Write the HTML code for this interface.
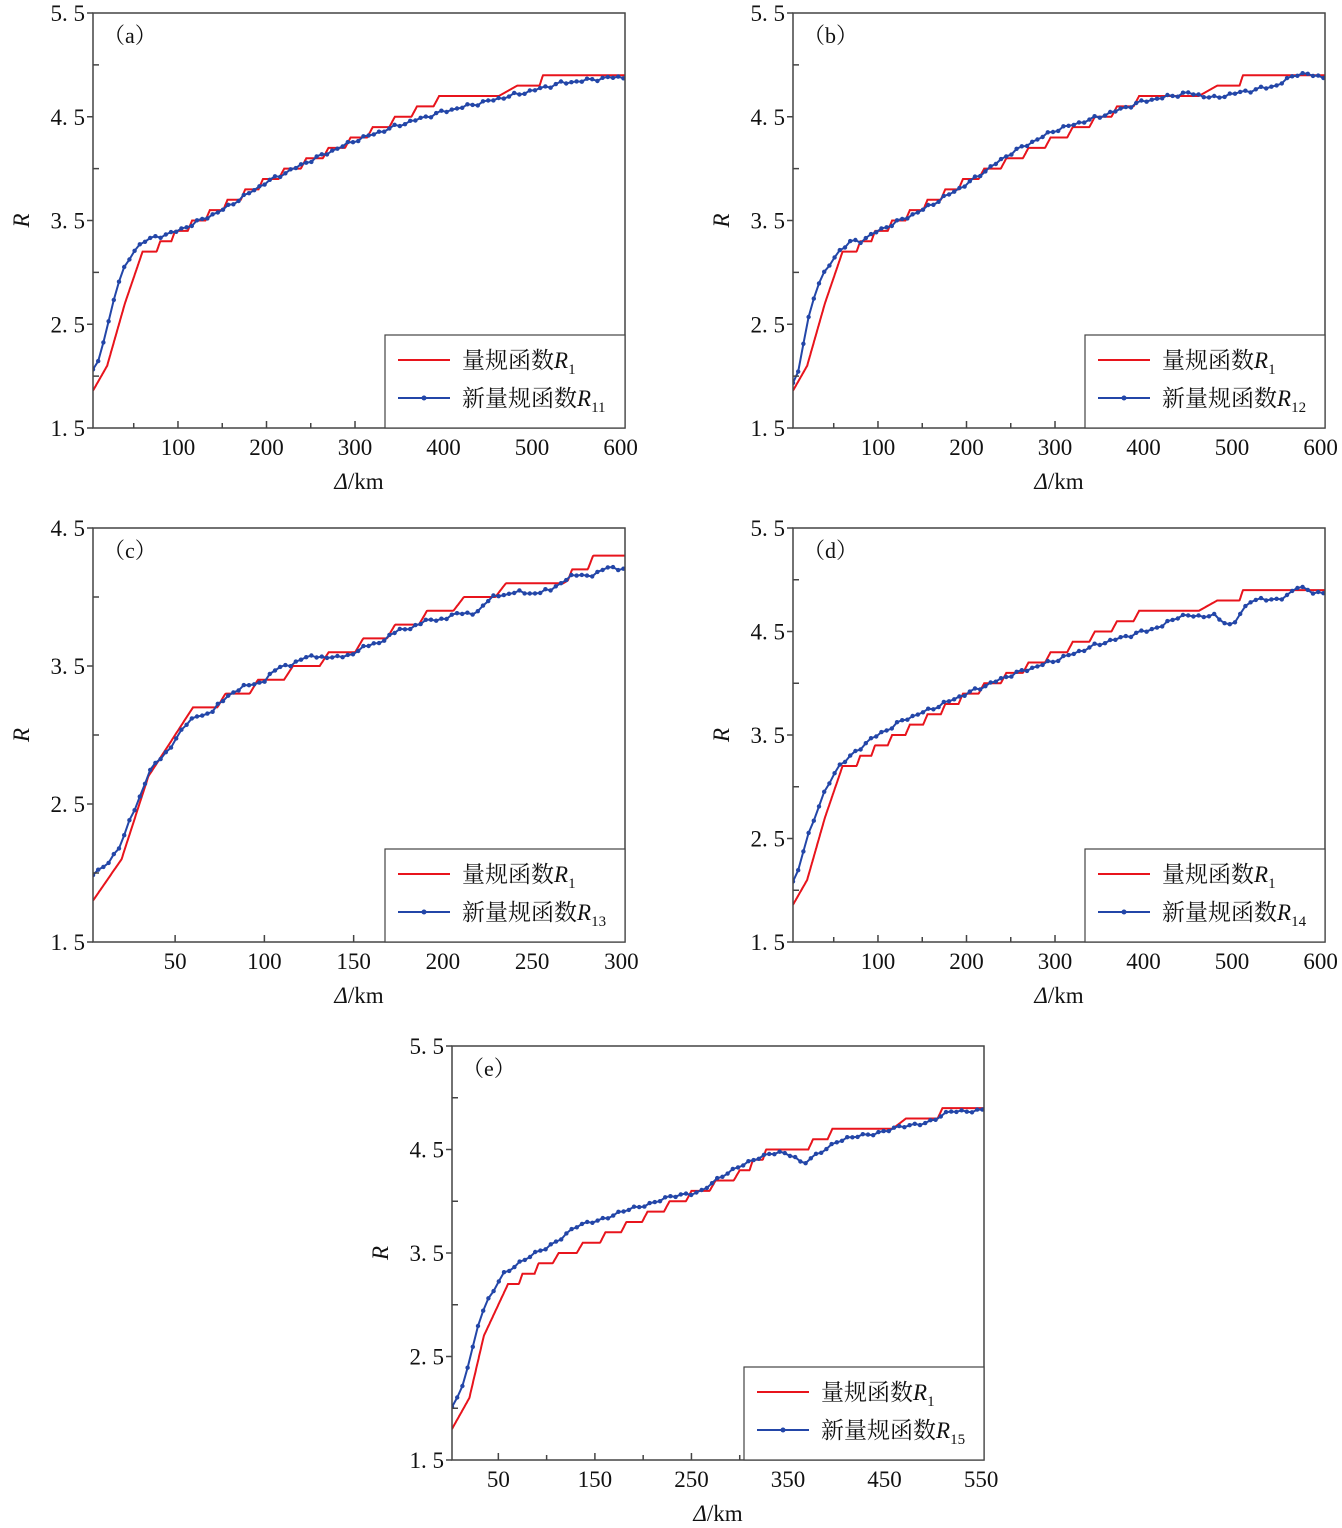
<!DOCTYPE html>
<html><head><meta charset="utf-8"><style>
html,body{margin:0;padding:0;background:#fff;}
svg text{font-family:"Liberation Serif","Noto Serif CJK SC",serif;fill:#111;}
</style></head><body>
<svg id="s" width="1342" height="1523" xmlns="http://www.w3.org/2000/svg"></svg>
<script>
const S=document.getElementById('s');let h='';
function interp(a,x){if(x<=a[0][0])return a[0][1];for(let i=1;i<a.length;i++){if(x<=a[i][0]){const t=(x-a[i-1][0])/(a[i][0]-a[i-1][0]);return a[i-1][1]+t*(a[i][1]-a[i-1][1]);}}return a[a.length-1][1];}
function quant(v){const k=Math.floor(v*10+1e-9),f=v*10-k;return (k+(f>0.75?(f-0.75)/0.25:0))/10;}
function panel(o){
 const {L,T,W,H,x0,x1,y0,y1,lab,xt,xmin,yt,ymin,red,blue,sub,qx}=o;
 const X=x=>L+(x-x0)/(x1-x0)*W, Y=y=>T+H-(y-y0)/(y1-y0)*H;
 h+=`<clipPath id="c${lab}"><rect x="${L}" y="${T}" width="${W}" height="${H}"/></clipPath>`;
 let p='';for(let x=x0;x<=x1;x+=0.5){let v=interp(red,x);if(x>qx)v=Math.max(quant(v),interp(red,qx));p+=(p?'L':'M')+X(x).toFixed(1)+' '+Y(v).toFixed(1);}
 h+=`<path d="${p}" fill="none" stroke="#e8141c" stroke-width="2" clip-path="url(#c${lab})"/>`;
 let q='',dots='';const step=(x1-x0)/W*5.2;
 for(let x=x0;x<=x1+0.01;x+=step){let v=interp(blue,x)+0.012*Math.sin(x*0.37)+0.008*Math.sin(x*1.3);const px=X(x),py=Y(v);q+=(q?'L':'M')+px.toFixed(1)+' '+py.toFixed(1);dots+=`<circle cx="${px.toFixed(1)}" cy="${py.toFixed(1)}" r="2.2"/>`;}
 h+=`<g clip-path="url(#c${lab})"><path d="${q}" fill="none" stroke="#2346a8" stroke-width="2"/><g fill="#2346a8">${dots}</g></g>`;
 h+=`<rect x="${L}" y="${T}" width="${W}" height="${H}" fill="none" stroke="#444" stroke-width="1.5"/>`;
 for(const t of yt){const y=Y(t);h+=`<line x1="${L-6}" x2="${L}" y1="${y}" y2="${y}" stroke="#444" stroke-width="1.5"/><text x="${L-8}" y="${y+8}" font-size="23" text-anchor="end">${t.toFixed(1).replace('.','. ')}</text>`;}
 for(const t of ymin){const y=Y(t);h+=`<line x1="${L}" x2="${L+6}" y1="${y}" y2="${y}" stroke="#444" stroke-width="1.5"/>`;}
 for(const t of xt){const x=X(t);h+=`<line x1="${x}" x2="${x}" y1="${T+H}" y2="${T+H-7}" stroke="#444" stroke-width="1.5"/><text x="${x}" y="${T+H+27}" font-size="23" text-anchor="middle">${t}</text>`;}
 for(const t of xmin){const x=X(t);h+=`<line x1="${x}" x2="${x}" y1="${T+H}" y2="${T+H-5}" stroke="#444" stroke-width="1.5"/>`;}
 h+=`<text x="${L+10}" y="${T+30}" font-size="22">（${lab}）</text>`;
 h+=`<text x="${L-72}" y="${T+H/2+8}" font-size="23" font-style="italic" transform="rotate(-90 ${L-72} ${T+H/2})" text-anchor="middle">R</text>`;
 h+=`<text x="${L+W/2}" y="${T+H+61}" font-size="23" text-anchor="middle"><tspan font-style="italic">Δ</tspan>/km</text>`;
 const lx=L+W-240,ly=T+H-93;
 h+=`<rect x="${lx}" y="${ly}" width="240" height="93" fill="#fff" stroke="#444" stroke-width="1.2"/>`;
 h+=`<line x1="${lx+13}" x2="${lx+65}" y1="${ly+25}" y2="${ly+25}" stroke="#e8141c" stroke-width="2"/>`;
 h+=`<text x="${lx+77}" y="${ly+33}" font-size="23">量规函数<tspan font-style="italic">R</tspan><tspan font-size="15" dy="6">1</tspan></text>`;
 h+=`<line x1="${lx+13}" x2="${lx+65}" y1="${ly+63}" y2="${ly+63}" stroke="#2346a8" stroke-width="2"/><circle cx="${lx+39}" cy="${ly+63}" r="2.5" fill="#2346a8"/>`;
 h+=`<text x="${lx+77}" y="${ly+71}" font-size="23">新量规函数<tspan font-style="italic">R</tspan><tspan font-size="15" dy="6">${sub}</tspan></text>`;
}
const redA=[[0,1.8],[20,2.1],[40,2.7],[60,3.2],[75,3.27],[100,3.42],[150,3.67],[200,3.92],[250,4.12],[300,4.32],[350,4.52],[400,4.72],[450,4.76],[500,4.82],[520,4.95],[605,4.95]];
const yt5=[1.5,2.5,3.5,4.5,5.5],ym5=[2,3,4,5];
const xtA=[100,200,300,400,500,600],xmA=[50,150,250,350,450,550];
panel({lab:'a',L:93,T:13,W:532,H:415,x0:4,x1:605,y0:1.5,y1:5.5,xt:xtA,xmin:xmA,yt:yt5,ymin:ym5,sub:'11',qx:60,red:redA,
 blue:[[0,2.0],[10,2.15],[20,2.45],[30,2.85],[40,3.05],[50,3.2],[60,3.3],[80,3.35],[100,3.4],[150,3.6],[200,3.87],[250,4.08],[300,4.27],[350,4.42],[400,4.55],[450,4.65],[500,4.75],[530,4.82],[560,4.85],[590,4.88],[605,4.88]]});
panel({lab:'b',L:793,T:13,W:532,H:415,x0:4,x1:605,y0:1.5,y1:5.5,xt:xtA,xmin:xmA,yt:yt5,ymin:ym5,sub:'12',qx:60,red:redA,
 blue:[[0,1.85],[10,2.05],[20,2.5],[30,2.85],[40,3.0],[55,3.2],[70,3.3],[80,3.3],[100,3.4],[150,3.6],[200,3.85],[250,4.15],[300,4.37],[350,4.5],[400,4.65],[450,4.73],[480,4.68],[500,4.72],[550,4.8],[575,4.92],[605,4.88]]});
panel({lab:'c',L:93,T:528,W:532,H:414,x0:4,x1:302,y0:1.5,y1:4.5,xt:[50,100,150,200,250,300],xmin:[],yt:[1.5,2.5,3.5,4.5],ymin:[2,3,4],sub:'13',qx:60,
 red:[[4,1.8],[20,2.1],[35,2.7],[50,3.0],[60,3.2],[100,3.42],[150,3.67],[200,3.95],[240,4.12],[270,4.18],[290,4.35],[302,4.35]],
 blue:[[4,1.98],[10,2.05],[20,2.2],[25,2.4],[30,2.55],[35,2.72],[45,2.88],[55,3.05],[62,3.15],[70,3.15],[80,3.3],[90,3.35],[100,3.4],[110,3.5],[130,3.58],[140,3.55],[160,3.65],[175,3.75],[185,3.8],[200,3.85],[220,3.9],[230,4.02],[260,4.04],[270,4.15],[280,4.15],[290,4.2],[302,4.21]]});
panel({lab:'d',L:793,T:528,W:532,H:414,x0:4,x1:605,y0:1.5,y1:5.5,xt:xtA,xmin:xmA,yt:yt5,ymin:ym5,sub:'14',qx:60,red:redA,
 blue:[[0,2.0],[10,2.2],[20,2.5],[30,2.75],[40,2.95],[55,3.2],[70,3.3],[90,3.45],[110,3.55],[130,3.65],[160,3.75],[200,3.9],[250,4.08],[300,4.22],[350,4.38],[400,4.5],[420,4.55],[440,4.65],[480,4.65],[500,4.55],[520,4.8],[560,4.82],[575,4.95],[590,4.87],[605,4.88]]});
panel({lab:'e',L:452,T:1046,W:532,H:414,x0:2,x1:553,y0:1.5,y1:5.5,xt:[50,150,250,350,450,550],xmin:[100,200,300,400,500],yt:yt5,ymin:ym5,sub:'15',qx:60,
 red:[[2,1.8],[20,2.1],[35,2.7],[60,3.2],[75,3.3],[100,3.45],[150,3.65],[200,3.88],[250,4.1],[300,4.3],[330,4.52],[360,4.52],[400,4.72],[450,4.76],[500,4.85],[520,4.95],[553,4.93]],
 blue:[[2,2.0],[10,2.15],[20,2.45],[30,2.85],[40,3.05],[55,3.3],[70,3.4],[100,3.55],[130,3.75],[180,3.9],[220,4.02],[260,4.1],[300,4.35],[340,4.48],[355,4.45],[365,4.35],[380,4.45],[400,4.58],[450,4.68],[500,4.78],[520,4.87],[553,4.88]]});
S.innerHTML=h;
</script>
</body></html>
